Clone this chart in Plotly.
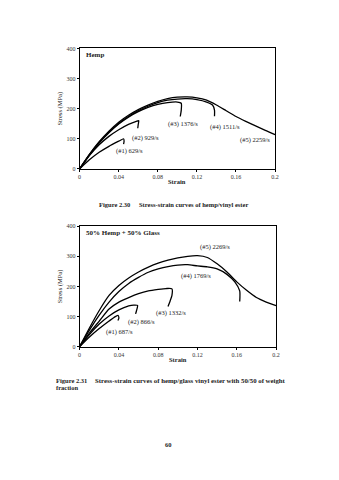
import plotly.graph_objects as go

W, H = 339, 480
FONT = "Liberation Serif"

# ---- Chart 1: Hemp ----
hemp_labels = ["(#1) 629/s", "(#2) 929/s", "(#3) 1376/s", "(#4) 1511/s", "(#5) 2259/s"]
hemp1_x = [0, 0.01, 0.02, 0.03, 0.04, 0.045, 0.0455, 0.045]
hemp1_y = [0, 30, 55, 75, 92, 100, 92, 82]
hemp2_x = [0, 0.01, 0.02, 0.03, 0.04, 0.05, 0.058, 0.0605, 0.060, 0.0595]
hemp2_y = [0, 44, 80, 108, 130, 148, 158, 160, 148, 135]
hemp3_x = [0, 0.01, 0.02, 0.03, 0.04, 0.05, 0.06, 0.07, 0.08, 0.09, 0.10, 0.104, 0.104, 0.103]
hemp3_y = [0, 46, 86, 120, 149, 172, 190, 204, 214, 220, 222, 218, 195, 174]
hemp4_x = [0, 0.01, 0.02, 0.03, 0.04, 0.05, 0.06, 0.07, 0.08, 0.09, 0.10, 0.11, 0.12, 0.13, 0.136, 0.138, 0.138]
hemp4_y = [0, 47, 88, 122, 151, 174, 193, 208, 220, 228, 232, 233, 230, 222, 212, 195, 175]
hemp5_x = [0, 0.01, 0.02, 0.03, 0.04, 0.05, 0.06, 0.07, 0.08, 0.09, 0.10, 0.11, 0.12, 0.13, 0.14, 0.15, 0.16, 0.17, 0.18, 0.19, 0.20]
hemp5_y = [0, 48, 90, 125, 155, 178, 197, 212, 224, 233, 238, 239, 236, 228, 212, 193, 174, 158, 143, 128, 114]
hemp_label_x = [0.0513, 0.067, 0.106, 0.149, 0.179]
hemp_label_y = [58, 102, 150, 140, 97]

# ---- Chart 2: 50% Hemp + 50% Glass ----
glass_labels = ["(#1) 687/s", "(#2) 866/s", "(#3) 1332/s", "(#4) 1769/s", "(#5) 2269/s"]
glass1_x = [0, 0.01, 0.02, 0.03, 0.035, 0.039, 0.040, 0.039]
glass1_y = [0, 32, 60, 85, 97, 104, 95, 87]
glass2_x = [0, 0.01, 0.02, 0.03, 0.04, 0.05, 0.055, 0.059, 0.058, 0.057]
glass2_y = [0, 40, 75, 102, 122, 135, 138, 137, 120, 109]
glass3_x = [0, 0.01, 0.02, 0.03, 0.04, 0.05, 0.06, 0.07, 0.08, 0.088, 0.094, 0.094, 0.092, 0.090]
glass3_y = [0, 45, 85, 125, 148, 163, 176, 185, 190, 193, 192, 170, 150, 133]
glass4_x = [0, 0.01, 0.02, 0.03, 0.04, 0.05, 0.06, 0.07, 0.08, 0.09, 0.10, 0.11, 0.12, 0.13, 0.14, 0.15, 0.158, 0.163, 0.163]
glass4_y = [0, 55, 105, 148, 183, 210, 230, 247, 258, 266, 271, 272, 268, 265, 258, 240, 215, 185, 150]
glass5_x = [0, 0.01, 0.02, 0.03, 0.04, 0.05, 0.06, 0.07, 0.08, 0.09, 0.10, 0.11, 0.12, 0.13, 0.14, 0.15, 0.16, 0.17, 0.18, 0.19, 0.20]
glass5_y = [0, 62, 120, 170, 203, 228, 248, 264, 277, 287, 295, 300, 302, 296, 275, 248, 215, 187, 163, 148, 136]
glass_label_x = [0.041, 0.0634, 0.0927, 0.119, 0.138]
glass_label_y = [48, 81, 111, 234, 331]

x_ticks = [0, 0.04, 0.08, 0.12, 0.16, 0.2]
x_ticktext = ["0", "0.04", "0.08", "0.12", "0.16", "0.2"]
y_ticks = [0, 100, 200, 300, 400]


def px(x):
    return x / W


def py(y):
    return 1 - y / H


fig = go.Figure()
hemp = [(hemp1_x, hemp1_y), (hemp2_x, hemp2_y), (hemp3_x, hemp3_y), (hemp4_x, hemp4_y), (hemp5_x, hemp5_y)]
glass = [(glass1_x, glass1_y), (glass2_x, glass2_y), (glass3_x, glass3_y), (glass4_x, glass4_y), (glass5_x, glass5_y)]
for xs, ys in hemp:
    fig.add_trace(go.Scatter(x=xs, y=ys, mode="lines", line=dict(color="black", width=1.3, shape="spline", smoothing=0.6),
                             xaxis="x", yaxis="y", showlegend=False, hoverinfo="skip"))
for xs, ys in glass:
    fig.add_trace(go.Scatter(x=xs, y=ys, mode="lines", line=dict(color="black", width=1.3, shape="spline", smoothing=0.6),
                             xaxis="x2", yaxis="y2", showlegend=False, hoverinfo="skip"))

tf = dict(family=FONT, size=6, color="#333")
axis_common = dict(showline=True, linecolor="black", linewidth=1, mirror=True, showgrid=False, zeroline=False,
                   ticks="outside", ticklen=2, tickcolor="black", tickfont=tf)

fig.update_layout(
    width=W, height=H, margin=dict(l=0, r=0, t=0, b=0),
    paper_bgcolor="white", plot_bgcolor="white",
    xaxis=dict(domain=[px(79), px(278)], range=[0, 0.2], tickvals=x_ticks, ticktext=x_ticktext, anchor="y", **axis_common),
    yaxis=dict(domain=[py(168), py(46)], range=[0, 400], tickvals=y_ticks, anchor="x", **axis_common),
    xaxis2=dict(domain=[px(79), px(279)], range=[0, 0.2], tickvals=x_ticks, ticktext=x_ticktext, anchor="y2", **axis_common),
    yaxis2=dict(domain=[py(348), py(226)], range=[0, 400], tickvals=y_ticks, anchor="x2", **axis_common),
)

lf = dict(family=FONT, size=6.5, color="#222")
anns = []
for t, x, y in zip(hemp_labels, hemp_label_x, hemp_label_y):
    anns.append(dict(text=t, x=x, y=y, xref="x", yref="y", showarrow=False, font=lf))
for t, x, y in zip(glass_labels, glass_label_x, glass_label_y):
    anns.append(dict(text=t, x=x, y=y, xref="x2", yref="y2", showarrow=False, font=lf))

pf = dict(family=FONT, size=7, color="#222")


def ptext(t, x, y, xanchor="left", size=7, angle=0, bold=False):
    f = dict(pf)
    f["size"] = size
    txt = "<b>" + t + "</b>" if bold else t
    anns.append(dict(text=txt, x=px(x), y=py(y), xref="paper", yref="paper", showarrow=False,
                     xanchor=xanchor, yanchor="middle", font=f, textangle=angle))


ptext("Hemp", 83, 53, size=7, bold=True)
ptext("50% Hemp + 50% Glass", 83, 233, size=7, bold=True)
ptext("Strain", 178, 181, xanchor="center", size=6.5, bold=True)
ptext("Strain", 179, 361, xanchor="center", size=6.5, bold=True)
ptext("Stress (MPa)", 59, 107, xanchor="center", size=6.5, angle=-90)
ptext("Stress (MPa)", 59, 287, xanchor="center", size=6.5, angle=-90)
ptext("Figure 2.30", 97, 204, size=6.5, bold=True)
ptext("Stress-strain curves of hemp/vinyl ester", 137, 204, size=6.5, bold=True)
ptext("Figure 2.31", 53, 382, size=6.5, bold=True)
ptext("Stress-strain curves of hemp/glass vinyl ester with 50/50 of weight", 93, 382, size=6.8, bold=True)
ptext("fraction", 53, 389, size=6.5, bold=True)
ptext("60", 170, 447, xanchor="center", size=6.5, bold=True)

fig.update_layout(annotations=anns)
fig.write_html("out.html")
